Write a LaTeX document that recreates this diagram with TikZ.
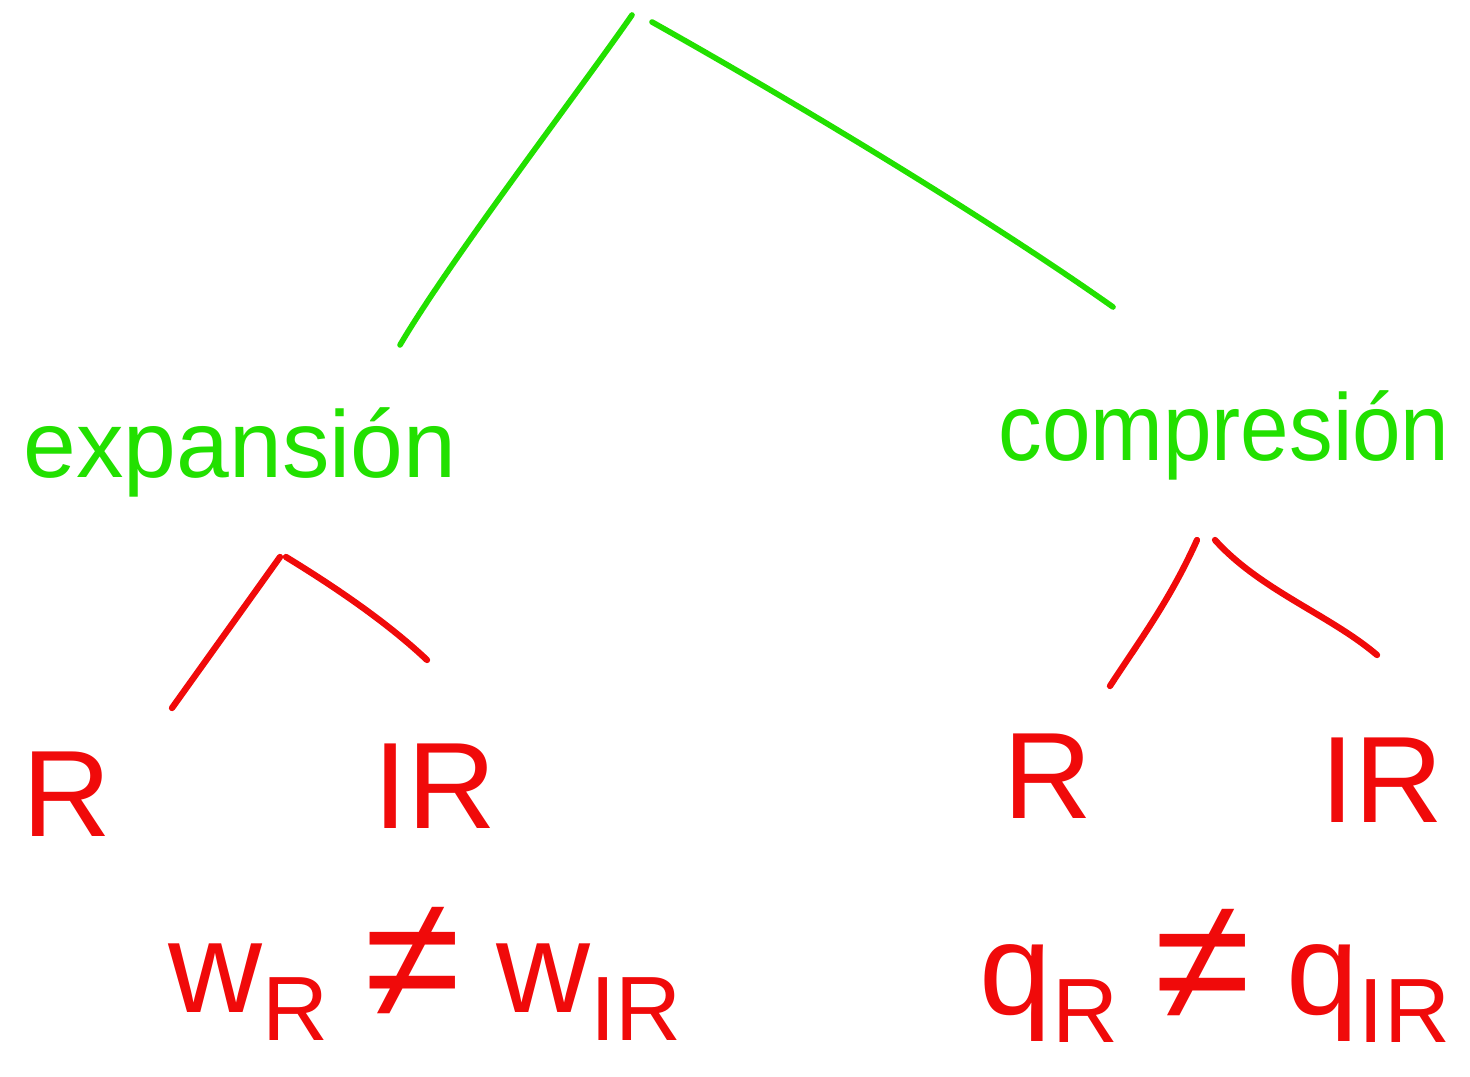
\documentclass[tikz,border=0pt]{standalone}
\usepackage{fontspec}
\setmainfont{Liberation Sans}
\definecolor{hgreen}{RGB}{34,224,0}
\definecolor{hred}{RGB}{240,10,10}
\newcommand{\hsub}[1]{\raisebox{-0.22em}{\fontsize{52}{56}\selectfont #1}}
\newcommand{\hneq}{\raisebox{-0.05em}{\fontsize{100}{100}\selectfont ≠}}
\begin{document}
\begin{tikzpicture}[x=0.02cm,y=-0.02cm,
  gline/.style={draw=hgreen,line width=3.2pt,line cap=round,line join=round},
  rline/.style={draw=hred,line width=3.6pt,line cap=round,line join=round},
  gtext/.style={text=hgreen,inner sep=0pt,anchor=base,font=\fontsize{54}{60}\selectfont},
  rtext/.style={text=hred,inner sep=0pt,anchor=base,font=\fontsize{70}{80}\selectfont},
  eqtext/.style={text=hred,inner sep=0pt,anchor=base,font=\fontsize{74}{80}\selectfont}]
\useasboundingbox (0,0) rectangle (1470,1077);
% root and branch ends
\coordinate (rootL) at (632,15);
\coordinate (rootR) at (652,22);
\coordinate (expTop) at (400,345);
\coordinate (compTop) at (1113,307);
\node[gtext] (exp) at (240,478) {expansión};
\node[gtext,xscale=0.92] (comp) at (1224,460) {compresión};
\draw[gline] (rootL) .. controls (580,90) and (450,260) .. (expTop);
\draw[gline] (rootR) .. controls (800,105) and (990,220) .. (compTop);
% red sub-branches left
\coordinate (lA) at (280,557);
\coordinate (lB) at (286,557);
\coordinate (lL) at (172,708);
\coordinate (lR) at (427,660);
\draw[rline] (lA) -- (lL);
\draw[rline] (lB) .. controls (340,590) and (390,625) .. (lR);
% red sub-branches right
\coordinate (rA) at (1197,540);
\coordinate (rB) at (1215,540);
\coordinate (rL) at (1110,686);
\coordinate (rR) at (1377,655);
\draw[rline] (rA) .. controls (1170,600) and (1140,640) .. (rL);
\draw[rline] (rB) .. controls (1260,590) and (1330,615) .. (rR);
% leaves
\node[rtext] (R1) at (67,836) {R};
\node[rtext] (IR1) at (435,828) {IR};
\node[rtext] (R2) at (1048,818) {R};
\node[rtext] (IR2) at (1382,822) {IR};
% equations
\node[eqtext] (eq1) at (425,1012) {w\hsub{R}\;\hneq\;w\hsub{IR}};
\node[eqtext] (eq2) at (1215,1014) {q\hsub{R}\;\hneq\;q\hsub{IR}};
\end{tikzpicture}
\end{document}
